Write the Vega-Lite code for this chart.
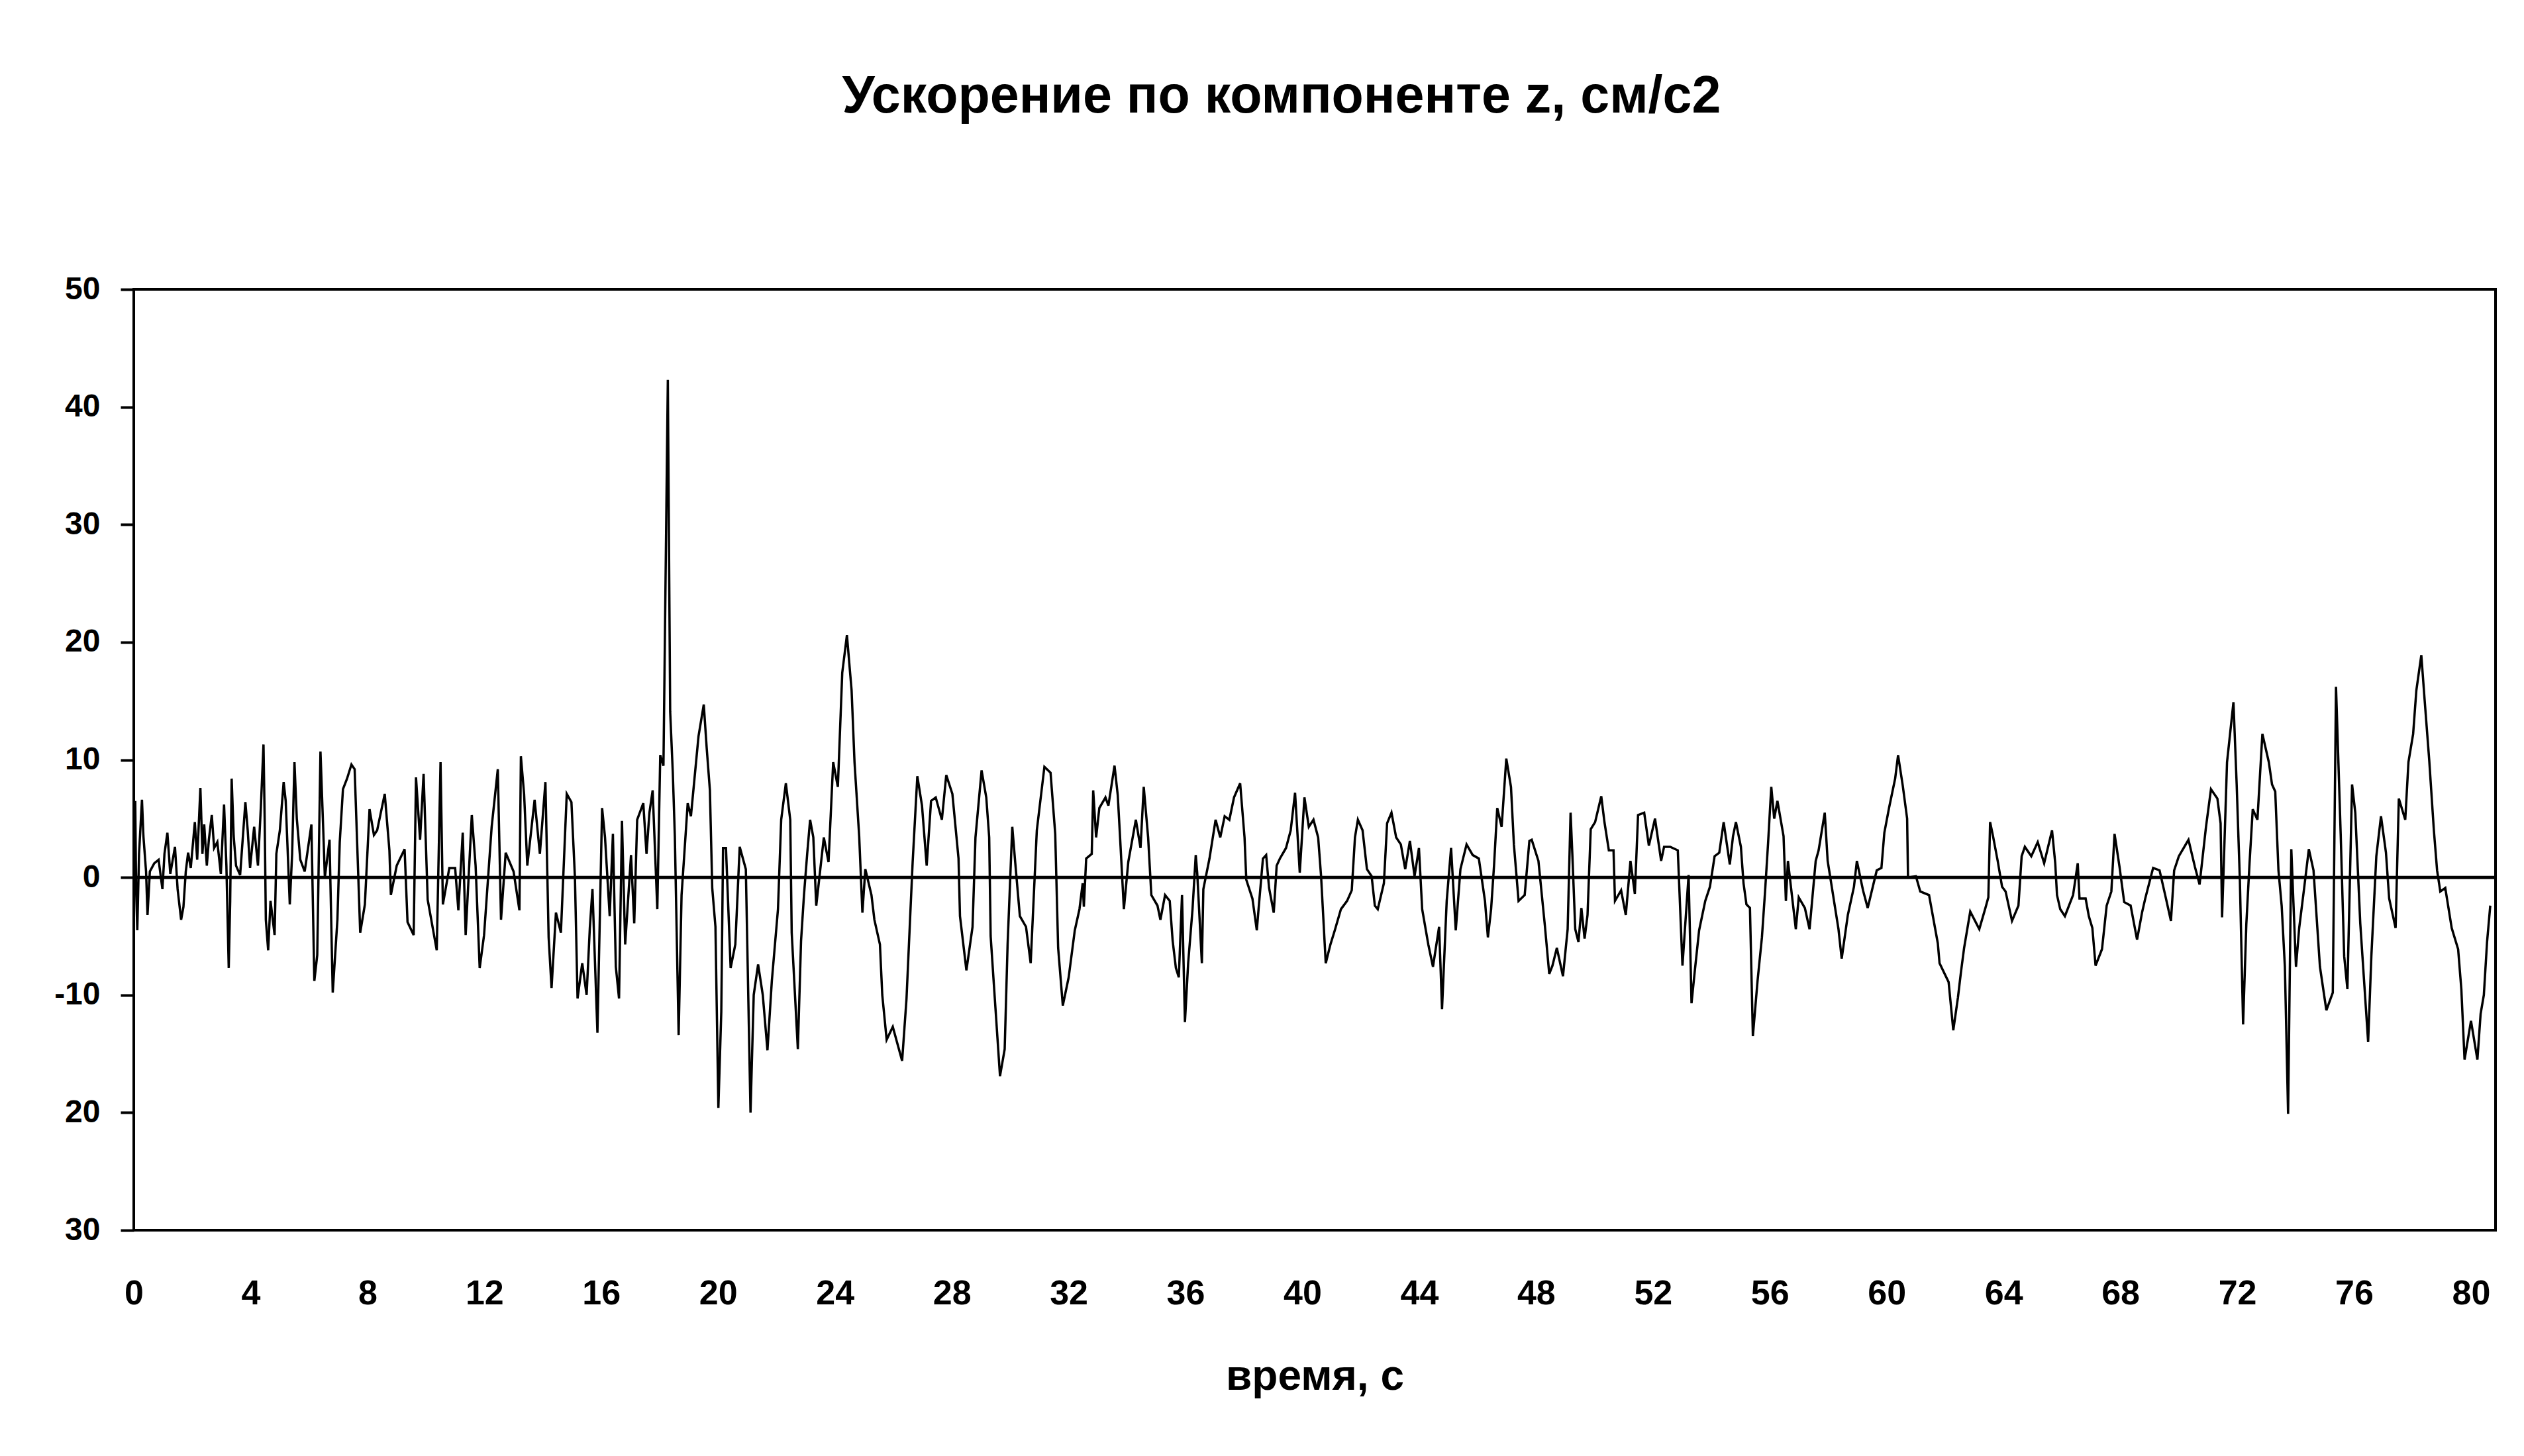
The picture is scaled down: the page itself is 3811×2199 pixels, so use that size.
{
"$schema": "https://vega.github.io/schema/vega-lite/v6.json",
"width": 3566,
"height": 1421,
"autosize": {"type": "none"},
"padding": {"left": 202, "top": 437, "right": 43, "bottom": 341},
"background": "white",
"title": {"text": "Ускорение по компоненте z, см/с2", "fontSize": 79, "fontWeight": "bold", "font": "Liberation Sans", "color": "black", "anchor": "middle", "dx": -50, "offset": 226},
"config": {"view": {"stroke": "black", "strokeWidth": 4}, "font": "Liberation Sans"},
"layer": [
{
"data": {"values": [
{"t":0,"a":0},{"t":0.05,"a":6.5},{"t":0.08,"a":-1},{"t":0.12,"a":-4.5},{"t":0.18,"a":2},{"t":0.28,"a":6.6},{"t":0.33,"a":3.5},{"t":0.42,"a":0.5},{"t":0.47,"a":-3.2},{"t":0.55,"a":0.5},{"t":0.7,"a":1.2},{"t":0.85,"a":1.5},{"t":0.98,"a":-1},{"t":1.05,"a":2},{"t":1.15,"a":3.8},{"t":1.25,"a":0.3},{"t":1.41,"a":2.6},{"t":1.5,"a":-1},{"t":1.62,"a":-3.6},{"t":1.7,"a":-2.5},{"t":1.78,"a":0.5},{"t":1.86,"a":2.1},{"t":1.95,"a":0.8},{"t":2.09,"a":4.7},{"t":2.17,"a":1.5},{"t":2.28,"a":7.6},{"t":2.35,"a":2},{"t":2.41,"a":4.5},{"t":2.5,"a":1},{"t":2.57,"a":3.2},{"t":2.67,"a":5.3},{"t":2.75,"a":2.5},{"t":2.86,"a":3},{"t":2.98,"a":0.3},{"t":3.09,"a":6.2},{"t":3.17,"a":1},{"t":3.25,"a":-7.7},{"t":3.3,"a":-2},{"t":3.35,"a":8.4},{"t":3.42,"a":3.5},{"t":3.5,"a":1},{"t":3.64,"a":0.2},{"t":3.82,"a":6.4},{"t":3.9,"a":4},{"t":3.98,"a":0.8},{"t":4.12,"a":4.3},{"t":4.25,"a":1},{"t":4.35,"a":6},{"t":4.44,"a":11.3},{"t":4.48,"a":5},{"t":4.52,"a":-3.6},{"t":4.6,"a":-6.2},{"t":4.68,"a":-2},{"t":4.82,"a":-4.9},{"t":4.88,"a":2},{"t":5,"a":4},{"t":5.13,"a":8.1},{"t":5.2,"a":6.5},{"t":5.34,"a":-2.3},{"t":5.42,"a":2},{"t":5.5,"a":9.8},{"t":5.58,"a":5},{"t":5.7,"a":1.5},{"t":5.85,"a":0.5},{"t":6.08,"a":4.5},{"t":6.18,"a":-8.8},{"t":6.28,"a":-6.6},{"t":6.39,"a":10.7},{"t":6.5,"a":3},{"t":6.54,"a":0},{"t":6.7,"a":3.2},{"t":6.81,"a":-9.8},{"t":6.97,"a":-3.6},{"t":7.05,"a":3},{"t":7.16,"a":7.5},{"t":7.3,"a":8.4},{"t":7.45,"a":9.6},{"t":7.56,"a":9.2},{"t":7.75,"a":-4.7},{"t":7.91,"a":-2.3},{"t":8.07,"a":5.8},{"t":8.22,"a":3.6},{"t":8.33,"a":4},{"t":8.59,"a":7.1},{"t":8.75,"a":2.3},{"t":8.8,"a":-1.5},{"t":9,"a":1},{"t":9.27,"a":2.4},{"t":9.37,"a":-3.8},{"t":9.58,"a":-4.9},{"t":9.66,"a":8.5},{"t":9.8,"a":3.2},{"t":9.92,"a":8.8},{"t":10.06,"a":-1.9},{"t":10.37,"a":-6.2},{"t":10.5,"a":9.8},{"t":10.58,"a":-2.3},{"t":10.8,"a":0.8},{"t":11,"a":0.8},{"t":11.11,"a":-2.8},{"t":11.26,"a":3.8},{"t":11.36,"a":-4.9},{"t":11.57,"a":5.3},{"t":11.7,"a":1},{"t":11.84,"a":-7.7},{"t":11.99,"a":-4.9},{"t":12.25,"a":4.3},{"t":12.46,"a":9.2},{"t":12.57,"a":-3.6},{"t":12.73,"a":2.1},{"t":13,"a":0.5},{"t":13.2,"a":-2.8},{"t":13.25,"a":10.3},{"t":13.36,"a":7.1},{"t":13.47,"a":1},{"t":13.72,"a":6.6},{"t":13.9,"a":2},{"t":14.09,"a":8.1},{"t":14.2,"a":-5.1},{"t":14.3,"a":-9.4},{"t":14.45,"a":-3},{"t":14.62,"a":-4.7},{"t":14.82,"a":7.1},{"t":14.98,"a":6.4},{"t":15.1,"a":0},{"t":15.19,"a":-10.3},{"t":15.35,"a":-7.3},{"t":15.5,"a":-10},{"t":15.61,"a":-4.3},{"t":15.7,"a":-1},{"t":15.87,"a":-13.2},
{"t":16.03,"a":5.9},{"t":16.13,"a":3.4},{"t":16.29,"a":-3.3},{"t":16.4,"a":3.7},{"t":16.5,"a":-7.6},{"t":16.61,"a":-10.3},{"t":16.71,"a":4.8},{"t":16.82,"a":-5.7},{"t":17.02,"a":1.9},{"t":17.13,"a":-3.9},{"t":17.23,"a":4.9},{"t":17.44,"a":6.3},{"t":17.55,"a":2},{"t":17.65,"a":5.5},{"t":17.76,"a":7.4},{"t":17.92,"a":-2.7},{"t":18.02,"a":10.4},{"t":18.13,"a":9.5},{"t":18.28,"a":42.3},{"t":18.36,"a":14.1},{"t":18.45,"a":8.9},{"t":18.52,"a":3.5},{"t":18.65,"a":-13.4},{"t":18.75,"a":-1.5},{"t":18.96,"a":6.3},{"t":19.07,"a":5.2},{"t":19.33,"a":12},{"t":19.51,"a":14.7},{"t":19.61,"a":11},{"t":19.72,"a":7.4},{"t":19.8,"a":-0.9},{"t":19.91,"a":-4.2},{"t":20.01,"a":-19.6},{"t":20.11,"a":-11.4},{"t":20.17,"a":2.5},{"t":20.27,"a":2.5},{"t":20.43,"a":-7.7},{"t":20.59,"a":-5.7},{"t":20.74,"a":2.6},{"t":20.95,"a":0.7},{"t":21.11,"a":-20},{"t":21.22,"a":-10},{"t":21.37,"a":-7.4},{"t":21.53,"a":-10},{"t":21.69,"a":-14.7},{"t":21.84,"a":-8.8},{"t":22.05,"a":-2.7},{"t":22.16,"a":4.9},{"t":22.32,"a":8},{"t":22.47,"a":4.9},{"t":22.52,"a":-4.7},{"t":22.73,"a":-14.6},{"t":22.84,"a":-5.4},{"t":22.94,"a":-1.5},{"t":23.05,"a":2},{"t":23.15,"a":4.9},{"t":23.26,"a":3.4},{"t":23.36,"a":-2.4},{"t":23.62,"a":3.4},{"t":23.78,"a":1.3},{"t":23.94,"a":9.8},{"t":24.1,"a":7.7},{"t":24.25,"a":17.4},{"t":24.41,"a":20.6},{"t":24.57,"a":15.9},{"t":24.67,"a":9.8},{"t":24.83,"a":3.5},{"t":24.94,"a":-3},{"t":25.04,"a":0.7},{"t":25.25,"a":-1.5},{"t":25.35,"a":-3.6},{"t":25.54,"a":-5.7},{"t":25.62,"a":-10},{"t":25.77,"a":-13.8},{"t":25.98,"a":-12.7},{"t":26.3,"a":-15.6},{"t":26.45,"a":-10.3},{"t":26.56,"a":-4.2},{"t":26.66,"a":1.3},{"t":26.82,"a":8.6},{"t":26.98,"a":6.1},{"t":27.14,"a":1},{"t":27.29,"a":6.5},{"t":27.45,"a":6.8},{"t":27.66,"a":4.9},{"t":27.81,"a":8.7},{"t":28.02,"a":7.1},{"t":28.23,"a":1.6},{"t":28.28,"a":-3.3},{"t":28.5,"a":-7.9},{"t":28.71,"a":-4.2},{"t":28.81,"a":3.4},{"t":29.02,"a":9.1},{"t":29.18,"a":6.8},{"t":29.28,"a":3.4},{"t":29.33,"a":-5},{"t":29.44,"a":-9.1},{"t":29.65,"a":-16.9},{"t":29.81,"a":-14.6},{"t":29.91,"a":-5.7},{"t":30.07,"a":4.3},{"t":30.17,"a":1.3},{"t":30.33,"a":-3.3},{"t":30.54,"a":-4.2},{"t":30.7,"a":-7.3},{"t":30.91,"a":4},{"t":31.17,"a":9.4},{"t":31.38,"a":8.9},{"t":31.54,"a":3.7},{"t":31.64,"a":-6},{"t":31.8,"a":-10.9},
{"t":32,"a":-8.5},{"t":32.21,"a":-4.5},{"t":32.37,"a":-2.7},{"t":32.48,"a":-0.5},{"t":32.52,"a":-2.5},{"t":32.6,"a":1.6},{"t":32.79,"a":2},{"t":32.84,"a":7.4},{"t":32.94,"a":3.4},{"t":33.05,"a":5.9},{"t":33.26,"a":6.8},{"t":33.36,"a":6.1},{"t":33.57,"a":9.5},{"t":33.68,"a":7},{"t":33.76,"a":3.4},{"t":33.89,"a":-2.7},{"t":34.04,"a":1.3},{"t":34.3,"a":4.9},{"t":34.46,"a":2.5},{"t":34.57,"a":7.7},{"t":34.72,"a":3.4},{"t":34.83,"a":-1.5},{"t":35.04,"a":-2.4},{"t":35.14,"a":-3.6},{"t":35.3,"a":-1.5},{"t":35.46,"a":-2},{"t":35.56,"a":-5.4},{"t":35.67,"a":-7.7},{"t":35.77,"a":-8.5},{"t":35.88,"a":-1.5},{"t":35.98,"a":-12.3},{"t":36.09,"a":-7.3},{"t":36.24,"a":-2.7},{"t":36.35,"a":1.9},{"t":36.4,"a":0.4},{"t":36.45,"a":-2},{"t":36.56,"a":-7.3},{"t":36.61,"a":-1},{"t":36.82,"a":1.6},{"t":37.03,"a":4.9},{"t":37.19,"a":3.4},{"t":37.34,"a":5.2},{"t":37.5,"a":4.9},{"t":37.66,"a":6.8},{"t":37.87,"a":8},{"t":38.02,"a":3.4},{"t":38.08,"a":-0.2},{"t":38.29,"a":-1.8},{"t":38.44,"a":-4.5},{"t":38.5,"a":-2.7},{"t":38.65,"a":1.6},{"t":38.76,"a":1.9},{"t":38.86,"a":-0.9},{"t":39.02,"a":-3},{"t":39.12,"a":1},{"t":39.23,"a":1.6},{"t":39.44,"a":2.5},{"t":39.6,"a":4},{"t":39.75,"a":7.2},{"t":39.91,"a":0.4},{"t":40.07,"a":6.8},{"t":40.22,"a":4.3},{"t":40.38,"a":4.9},{"t":40.54,"a":3.4},{"t":40.64,"a":0.1},{"t":40.8,"a":-7.3},{"t":40.96,"a":-5.7},{"t":41.11,"a":-4.5},{"t":41.32,"a":-2.7},{"t":41.53,"a":-2},{"t":41.69,"a":-1.1},{"t":41.8,"a":3.4},{"t":41.9,"a":4.9},{"t":42.06,"a":4},{"t":42.21,"a":0.7},{"t":42.37,"a":0.1},{"t":42.48,"a":-2.4},{"t":42.58,"a":-2.7},{"t":42.79,"a":-0.5},{"t":42.9,"a":4.6},{"t":43.05,"a":5.5},{"t":43.21,"a":3.4},{"t":43.37,"a":2.8},{"t":43.52,"a":0.7},{"t":43.68,"a":3.1},{"t":43.84,"a":0.1},{"t":43.99,"a":2.5},{"t":44.1,"a":-2.7},{"t":44.31,"a":-5.7},{"t":44.47,"a":-7.6},{"t":44.68,"a":-4.2},{"t":44.78,"a":-11.2},{"t":44.94,"a":-2},{"t":45.09,"a":2.5},{"t":45.25,"a":-4.5},{"t":45.41,"a":0.7},{"t":45.62,"a":2.8},{"t":45.83,"a":1.9},{"t":46.04,"a":1.6},{"t":46.25,"a":-2},{"t":46.35,"a":-5.1},{"t":46.46,"a":-2.7},{"t":46.56,"a":1},{"t":46.67,"a":5.9},{"t":46.82,"a":4.3},{"t":46.98,"a":10.1},{"t":47.14,"a":7.7},{"t":47.24,"a":2.8},{"t":47.4,"a":-2},{"t":47.61,"a":-1.5},{"t":47.77,"a":3.1},
{"t":47.85,"a":3.2},{"t":48.08,"a":1.4},{"t":48.3,"a":-4.1},{"t":48.45,"a":-8.2},{"t":48.56,"a":-7.5},{"t":48.71,"a":-6},{"t":48.92,"a":-8.4},{"t":49.08,"a":-4.4},{"t":49.18,"a":5.5},{"t":49.24,"a":2},{"t":49.34,"a":-4.4},{"t":49.45,"a":-5.5},{"t":49.55,"a":-2.6},{"t":49.66,"a":-5.2},{"t":49.76,"a":-3.2},{"t":49.87,"a":4.1},{"t":50.02,"a":4.7},{"t":50.23,"a":6.9},{"t":50.34,"a":4.7},{"t":50.49,"a":2.3},{"t":50.65,"a":2.3},{"t":50.7,"a":-2},{"t":50.91,"a":-1.1},{"t":51.07,"a":-3.2},{"t":51.23,"a":1.4},{"t":51.38,"a":-1.4},{"t":51.49,"a":5.3},{"t":51.7,"a":5.5},{"t":51.86,"a":2.7},{"t":52.07,"a":5},{"t":52.28,"a":1.4},{"t":52.38,"a":2.6},{"t":52.59,"a":2.6},{"t":52.85,"a":2.3},{"t":53.01,"a":-7.5},{"t":53.22,"a":0.2},{"t":53.32,"a":-10.7},{"t":53.43,"a":-8},{"t":53.58,"a":-4.5},{"t":53.79,"a":-2},{"t":53.95,"a":-0.8},{"t":54.11,"a":1.8},{"t":54.27,"a":2.1},{"t":54.42,"a":4.7},{"t":54.63,"a":1.1},{"t":54.74,"a":3.5},{"t":54.84,"a":4.7},{"t":55.01,"a":2.6},{"t":55.1,"a":-0.5},{"t":55.2,"a":-2.3},{"t":55.32,"a":-2.6},{"t":55.42,"a":-13.5},{"t":55.58,"a":-8.8},{"t":55.73,"a":-5.1},{"t":55.84,"a":-1.1},{"t":55.94,"a":2.9},{"t":56.05,"a":7.7},{"t":56.15,"a":5},{"t":56.26,"a":6.5},{"t":56.47,"a":3.5},{"t":56.55,"a":-2},{"t":56.62,"a":1.4},{"t":56.89,"a":-4.4},{"t":56.99,"a":-1.7},{"t":57.2,"a":-2.6},{"t":57.36,"a":-4.4},{"t":57.57,"a":1.4},{"t":57.67,"a":2.3},{"t":57.88,"a":5.5},{"t":57.98,"a":1.4},{"t":58.35,"a":-4.4},{"t":58.46,"a":-6.9},{"t":58.67,"a":-3.2},{"t":58.88,"a":-0.8},{"t":58.98,"a":1.4},{"t":59.19,"a":-1.1},{"t":59.35,"a":-2.6},{"t":59.66,"a":0.6},{"t":59.82,"a":0.8},{"t":59.92,"a":3.8},{"t":60.08,"a":5.9},{"t":60.29,"a":8.4},{"t":60.39,"a":10.4},{"t":60.55,"a":7.8},{"t":60.7,"a":5},{"t":60.73,"a":0},{"t":61,"a":0.1},{"t":61.15,"a":-1.2},{"t":61.45,"a":-1.5},{"t":61.75,"a":-5.6},{"t":61.81,"a":-7.3},{"t":62.12,"a":-8.9},{"t":62.28,"a":-13},{"t":62.44,"a":-10.2},{"t":62.54,"a":-8.1},{"t":62.65,"a":-6},{"t":62.86,"a":-2.9},{"t":63.17,"a":-4.4},{"t":63.38,"a":-2.6},{"t":63.48,"a":-1.7},{"t":63.54,"a":4.7},{"t":63.64,"a":3.5},{"t":63.8,"a":1.4},{"t":63.95,"a":-0.8},
{"t":64.07,"a":-1.2},{"t":64.29,"a":-3.7},{"t":64.51,"a":-2.4},{"t":64.62,"a":1.8},{"t":64.73,"a":2.6},{"t":64.95,"a":1.8},{"t":65.17,"a":3},{"t":65.39,"a":1.2},{"t":65.66,"a":4},{"t":65.77,"a":1.2},{"t":65.83,"a":-1.5},{"t":65.94,"a":-2.7},{"t":66.1,"a":-3.3},{"t":66.38,"a":-1.5},{"t":66.54,"a":1.2},{"t":66.6,"a":-1.8},{"t":66.81,"a":-1.8},{"t":66.92,"a":-3.3},{"t":67.04,"a":-4.3},{"t":67.15,"a":-7.5},{"t":67.37,"a":-6.1},{"t":67.53,"a":-2.4},{"t":67.69,"a":-1.2},{"t":67.8,"a":3.7},{"t":67.97,"a":0.9},{"t":68.13,"a":-2.1},{"t":68.35,"a":-2.4},{"t":68.57,"a":-5.3},{"t":68.74,"a":-3},{"t":68.85,"a":-1.8},{"t":69.12,"a":0.8},{"t":69.34,"a":0.6},{"t":69.56,"a":-1.8},{"t":69.73,"a":-3.7},{"t":69.84,"a":0.6},{"t":70,"a":1.8},{"t":70.33,"a":3.2},{"t":70.55,"a":0.9},{"t":70.71,"a":-0.6},{"t":70.93,"a":4.3},{"t":71.1,"a":7.5},{"t":71.32,"a":6.7},{"t":71.43,"a":4.6},{"t":71.48,"a":-3.4},{"t":71.65,"a":9.8},{"t":71.87,"a":14.9},{"t":71.98,"a":7.9},{"t":72.09,"a":-0.3},{"t":72.2,"a":-12.5},{"t":72.31,"a":-4},{"t":72.42,"a":1.2},{"t":72.53,"a":5.8},{"t":72.69,"a":4.9},{"t":72.86,"a":12.2},{"t":73.08,"a":9.8},{"t":73.19,"a":7.9},{"t":73.3,"a":7.3},{"t":73.41,"a":0.6},{"t":73.52,"a":-2.4},{"t":73.63,"a":-7.6},{"t":73.74,"a":-20.1},{"t":73.85,"a":2.4},{"t":74.01,"a":-7.6},{"t":74.12,"a":-4.3},{"t":74.29,"a":-0.9},{"t":74.45,"a":2.4},{"t":74.61,"a":0.6},{"t":74.83,"a":-7.6},{"t":75.05,"a":-11.3},{"t":75.27,"a":-9.8},{"t":75.38,"a":16.2},{"t":75.54,"a":3.7},{"t":75.66,"a":-6.7},{"t":75.77,"a":-9.5},{"t":75.93,"a":7.9},{"t":76.04,"a":5.5},{"t":76.21,"a":-3.9},{"t":76.48,"a":-14},{"t":76.59,"a":-6.7},{"t":76.76,"a":1.8},{"t":76.92,"a":5.2},{"t":77.09,"a":2.1},{"t":77.2,"a":-1.8},{"t":77.42,"a":-4.3},{"t":77.53,"a":6.7},{"t":77.75,"a":4.9},{"t":77.86,"a":9.8},{"t":78.02,"a":12.2},{"t":78.13,"a":15.9},{"t":78.3,"a":18.9},{"t":78.41,"a":15.2},{"t":78.57,"a":10},{"t":78.73,"a":4},{"t":78.84,"a":0.6},{"t":78.95,"a":-1.2},{"t":79.12,"a":-0.9},{"t":79.34,"a":-4.3},{"t":79.56,"a":-6.1},{"t":79.67,"a":-9.5},{"t":79.78,"a":-15.5},{"t":80,"a":-12.2},{"t":80.22,"a":-15.5},{"t":80.33,"a":-11.6},{"t":80.44,"a":-10},{"t":80.55,"a":-5.5},{"t":80.66,"a":-2.4}
]},
"mark": {"type": "line", "color": "black", "strokeWidth": 3.5, "clip": true},
"encoding": {
"x": {"field": "t", "type": "quantitative", "scale": {"domain": [0, 80.84], "nice": false, "zero": false},
 "axis": {"values": [0,4,8,12,16,20,24,28,32,36,40,44,48,52,56,60,64,68,72,76,80], "format": "d", "title": "время, с", "titleFontSize": 64, "titleFontWeight": "bold", "titleColor": "black", "titlePadding": 68, "labelFontSize": 52, "labelFontWeight": "bold", "labelColor": "black", "labelPadding": 70, "ticks": false, "tickSize": 0, "domain": false, "grid": false, "labelFlush": false, "labelOverlap": false}},
"y": {"field": "a", "type": "quantitative", "scale": {"domain": [-30, 50], "nice": false},
 "axis": {"values": [-30,-20,-10,0,10,20,30,40,50], "title": null, "labelFontSize": 48, "labelFontWeight": "bold", "labelColor": "black", "labelPadding": 31, "tickSize": 20, "tickWidth": 4, "tickColor": "black", "domain": false, "grid": false, "labelFlush": false, "labelOverlap": false, "labelExpr": "datum.value < -10 ? '' + (-datum.value) : (datum.value < 0 ? '-' + (-datum.value) : '' + datum.value)"}}
}
},
{
"data": {"values": [{"zero": 0}]},
"mark": {"type": "rule", "color": "black", "strokeWidth": 5},
"encoding": {"y": {"field": "zero", "type": "quantitative"}}
}
]
}
